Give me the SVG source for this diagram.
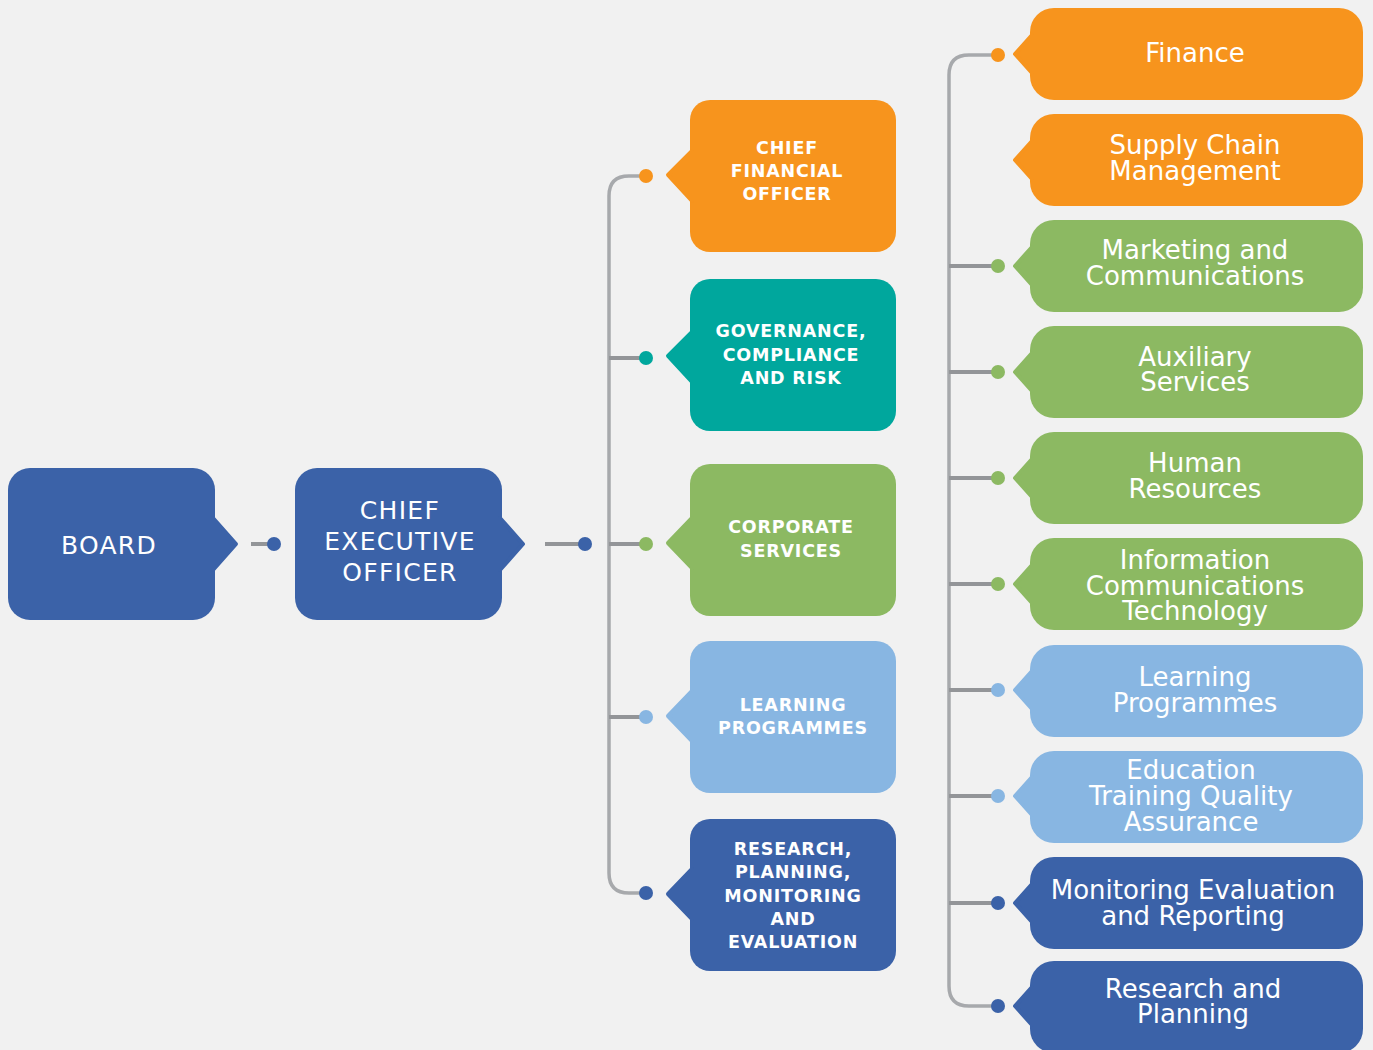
<svg xmlns="http://www.w3.org/2000/svg" width="1373" height="1050" viewBox="0 0 1373 1050">
<style>
.bg{fill:#F1F1F1}
.n polygon{stroke-width:4;stroke-linejoin:round}
.orange rect,.orange polygon,.orange circle{fill:#F7941D;stroke:#F7941D}
.teal rect,.teal polygon,.teal circle{fill:#00A79D;stroke:#00A79D}
.green rect,.green polygon,.green circle{fill:#8CB962;stroke:#8CB962}
.lblue rect,.lblue polygon,.lblue circle{fill:#88B6E2;stroke:#88B6E2}
.blue rect,.blue polygon,.blue circle{fill:#3B62A8;stroke:#3B62A8}
.n rect,circle{stroke:none}
text{fill:#FFFFFF;text-anchor:middle;font-family:"DejaVu Sans","Liberation Sans",sans-serif}
.t1{font-size:25px;letter-spacing:1.3px}
.t2{font-size:17.5px;font-weight:bold;letter-spacing:0.8px}
.t3{font-size:26px}
.trunk{fill:none;stroke:#A7A9AC;stroke-width:3.5}
.stub{fill:none;stroke:#939598;stroke-width:4}
.d-orange{fill:#F7941D}.d-teal{fill:#00A79D}.d-green{fill:#8CB962}.d-lblue{fill:#88B6E2}.d-blue{fill:#3B62A8}
</style>
<rect class="bg" x="0" y="0" width="1373" height="1050"/>

<g id="connectors">
  <line class="stub" x1="251" y1="544" x2="270" y2="544"/>
  <circle class="d-blue" cx="274" cy="544" r="7"/>
  <line class="stub" x1="545" y1="544" x2="580" y2="544"/>
  <circle class="d-blue" cx="585" cy="544" r="7"/>
  <path class="trunk" d="M646,176 H629 Q609,176 609,196 V873 Q609,893 629,893 H646"/>
  <line class="stub" x1="609" y1="358" x2="642" y2="358"/>
  <line class="stub" x1="609" y1="544" x2="642" y2="544"/>
  <line class="stub" x1="609" y1="717" x2="642" y2="717"/>
  <circle class="d-orange" cx="646" cy="176" r="7"/>
  <circle class="d-teal" cx="646" cy="358" r="7"/>
  <circle class="d-green" cx="646" cy="544" r="7"/>
  <circle class="d-lblue" cx="646" cy="717" r="7"/>
  <circle class="d-blue" cx="646" cy="893" r="7"/>
  <path class="trunk" d="M998,55 H969 Q949,55 949,75 V986 Q949,1006 969,1006 H998"/>
  <line class="stub" x1="949" y1="266" x2="994" y2="266"/>
  <line class="stub" x1="949" y1="372" x2="994" y2="372"/>
  <line class="stub" x1="949" y1="478" x2="994" y2="478"/>
  <line class="stub" x1="949" y1="584" x2="994" y2="584"/>
  <line class="stub" x1="949" y1="690" x2="994" y2="690"/>
  <line class="stub" x1="949" y1="796" x2="994" y2="796"/>
  <line class="stub" x1="949" y1="903" x2="994" y2="903"/>
  <circle class="d-orange" cx="998" cy="55" r="7"/>
  <circle class="d-green" cx="998" cy="266" r="7"/>
  <circle class="d-green" cx="998" cy="372" r="7"/>
  <circle class="d-green" cx="998" cy="478" r="7"/>
  <circle class="d-green" cx="998" cy="584" r="7"/>
  <circle class="d-lblue" cx="998" cy="690" r="7"/>
  <circle class="d-lblue" cx="998" cy="796" r="7"/>
  <circle class="d-blue" cx="998" cy="903" r="7"/>
  <circle class="d-blue" cx="998" cy="1006" r="7"/>
</g>

<g id="board" class="n blue">
  <rect x="8" y="468" width="207" height="152" rx="22"/>
  <polygon points="213,518 236,544 213,570"/>
  <text class="t1" x="109" y="554">BOARD</text>
</g>
<g id="ceo" class="n blue">
  <rect x="295" y="468" width="207" height="152" rx="22"/>
  <polygon points="500,518 523,544 500,570"/>
  <text class="t1" x="400" y="519">CHIEF</text>
  <text class="t1" x="400" y="550">EXECUTIVE</text>
  <text class="t1" x="400" y="581">OFFICER</text>
</g>

<g id="cfo" class="n orange">
  <rect x="690" y="100" width="206" height="152" rx="20"/>
  <polygon points="692,151 668,175 692,201"/>
  <text class="t2" x="787" y="154">CHIEF</text>
  <text class="t2" x="787" y="177">FINANCIAL</text>
  <text class="t2" x="787" y="200">OFFICER</text>
</g>
<g id="governance" class="n teal">
  <rect x="690" y="279" width="206" height="152" rx="20"/>
  <polygon points="692,332 668,356 692,382"/>
  <text class="t2" x="791" y="337">GOVERNANCE,</text>
  <text class="t2" x="791" y="361">COMPLIANCE</text>
  <text class="t2" x="791" y="384">AND RISK</text>
</g>
<g id="corporate" class="n green">
  <rect x="690" y="464" width="206" height="152" rx="20"/>
  <polygon points="692,518 668,543 692,568"/>
  <text class="t2" x="791" y="533">CORPORATE</text>
  <text class="t2" x="791" y="557">SERVICES</text>
</g>
<g id="learning" class="n lblue">
  <rect x="690" y="641" width="206" height="152" rx="20"/>
  <polygon points="692,691 668,716 692,741"/>
  <text class="t2" x="793" y="711">LEARNING</text>
  <text class="t2" x="793" y="734">PROGRAMMES</text>
</g>
<g id="research" class="n blue">
  <rect x="690" y="819" width="206" height="152" rx="20"/>
  <polygon points="692,869 668,894 692,919"/>
  <text class="t2" x="793" y="855">RESEARCH,</text>
  <text class="t2" x="793" y="878">PLANNING,</text>
  <text class="t2" x="793" y="902">MONITORING</text>
  <text class="t2" x="793" y="925">AND</text>
  <text class="t2" x="793" y="948">EVALUATION</text>
</g>

<g id="finance" class="n orange">
  <rect x="1030" y="8" width="333" height="92" rx="24"/>
  <polygon points="1032,35 1015,54 1032,73"/>
  <text class="t3" x="1195" y="62">Finance</text>
</g>
<g id="supply-chain" class="n orange">
  <rect x="1030" y="114" width="333" height="92" rx="24"/>
  <polygon points="1032,141 1015,160 1032,179"/>
  <text class="t3" x="1195" y="154">Supply Chain</text>
  <text class="t3" x="1195" y="180">Management</text>
</g>
<g id="marketing" class="n green">
  <rect x="1030" y="220" width="333" height="92" rx="24"/>
  <polygon points="1032,247 1015,266 1032,285"/>
  <text class="t3" x="1195" y="259">Marketing and</text>
  <text class="t3" x="1195" y="285">Communications</text>
</g>
<g id="auxiliary" class="n green">
  <rect x="1030" y="326" width="333" height="92" rx="24"/>
  <polygon points="1032,353 1015,372 1032,391"/>
  <text class="t3" x="1195" y="366">Auxiliary</text>
  <text class="t3" x="1195" y="391">Services</text>
</g>
<g id="hr" class="n green">
  <rect x="1030" y="432" width="333" height="92" rx="24"/>
  <polygon points="1032,459 1015,478 1032,497"/>
  <text class="t3" x="1195" y="472">Human</text>
  <text class="t3" x="1195" y="498">Resources</text>
</g>
<g id="ict" class="n green">
  <rect x="1030" y="538" width="333" height="92" rx="24"/>
  <polygon points="1032,565 1015,584 1032,603"/>
  <text class="t3" x="1195" y="569">Information</text>
  <text class="t3" x="1195" y="595">Communications</text>
  <text class="t3" x="1195" y="620">Technology</text>
</g>
<g id="learning-programmes" class="n lblue">
  <rect x="1030" y="645" width="333" height="92" rx="24"/>
  <polygon points="1032,671 1015,690 1032,709"/>
  <text class="t3" x="1195" y="686">Learning</text>
  <text class="t3" x="1195" y="712">Programmes</text>
</g>
<g id="etqa" class="n lblue">
  <rect x="1030" y="751" width="333" height="92" rx="24"/>
  <polygon points="1032,777 1015,796 1032,815"/>
  <text class="t3" x="1191" y="779">Education</text>
  <text class="t3" x="1191" y="805">Training Quality</text>
  <text class="t3" x="1191" y="831">Assurance</text>
</g>
<g id="mer" class="n blue">
  <rect x="1030" y="857" width="333" height="92" rx="24"/>
  <polygon points="1032,884 1015,903 1032,922"/>
  <text class="t3" x="1193" y="899">Monitoring Evaluation</text>
  <text class="t3" x="1193" y="925">and Reporting</text>
</g>
<g id="research-planning" class="n blue">
  <rect x="1030" y="961" width="333" height="92" rx="24"/>
  <polygon points="1032,987 1015,1006 1032,1025"/>
  <text class="t3" x="1193" y="998">Research and</text>
  <text class="t3" x="1193" y="1023">Planning</text>
</g>
</svg>
